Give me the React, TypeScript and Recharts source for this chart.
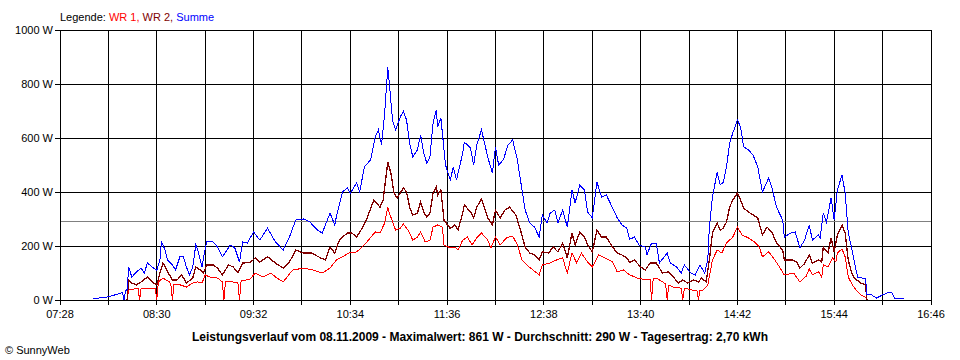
import React from "react";
import { LineChart, Line, XAxis, YAxis, CartesianGrid, ReferenceLine } from "recharts";

// grid every 31 min, label on every second line
const gridTimes = [
  "07:28", "07:59", "08:30", "09:01", "09:32", "10:03", "10:34", "11:05", "11:36", "12:07",
  "12:38", "13:09", "13:40", "14:11", "14:42", "15:13", "15:44", "16:15", "16:46",
];
const wattTicks = [0, 200, 400, 600, 800, 1000];
const avgWatt = 290;

const summeTimes = [
  "07:49", "07:59", "08:08", "08:09", "08:10", "08:11", "08:12", "08:14", "08:17", "08:20",
  "08:22", "08:24", "08:28", "08:30", "08:32", "08:33", "08:35", "08:37", "08:40", "08:42",
  "08:45", "08:47", "08:49", "08:51", "08:53", "08:55", "08:56", "08:59", "09:00", "09:02",
  "09:06", "09:09", "09:12", "09:15", "09:17", "09:20", "09:23", "09:25", "09:28", "09:32",
  "09:36", "09:41", "09:46", "09:51", "09:55", "09:59", "10:04", "10:08", "10:13", "10:16",
  "10:21", "10:24", "10:25", "10:29", "10:32", "10:34", "10:38", "10:40", "10:43", "10:47",
  "10:50", "10:52", "10:54", "10:56", "10:58", "10:59", "11:01", "11:03", "11:06", "11:08",
  "11:10", "11:12", "11:14", "11:17", "11:19", "11:21", "11:23", "11:25", "11:27", "11:29",
  "11:30", "11:32", "11:35", "11:38", "11:40", "11:42", "11:46", "11:47", "11:51", "11:53",
  "11:55", "11:58", "12:00", "12:02", "12:05", "12:07", "12:09", "12:12", "12:15", "12:18",
  "12:21", "12:24", "12:26", "12:29", "12:32", "12:35", "12:37", "12:40", "12:42", "12:45",
  "12:47", "12:50", "12:53", "12:56", "12:58", "13:01", "13:04", "13:06", "13:09", "13:12",
  "13:15", "13:18", "13:22", "13:25", "13:28", "13:31", "13:33", "13:36", "13:39", "13:43",
  "13:44", "13:47", "13:50", "13:52", "13:57", "13:59", "14:03", "14:06", "14:08", "14:12",
  "14:15", "14:18", "14:21", "14:23", "14:24", "14:26", "14:29", "14:31", "14:33", "14:35",
  "14:37", "14:39", "14:42", "14:44", "14:46", "14:49", "14:52", "14:55", "14:58", "15:02",
  "15:04", "15:07", "15:11", "15:12", "15:16", "15:19", "15:22", "15:25", "15:28", "15:30",
  "15:34", "15:35", "15:37", "15:39", "15:42", "15:44", "15:46", "15:49", "15:51", "15:53",
  "15:55", "15:57", "15:59", "16:02", "16:04", "16:05", "16:08", "16:11", "16:15", "16:18",
  "16:21", "16:23", "16:29",
];
const summeWatts = [
  4, 12, 27, 0, 35, 38, 122, 85, 104, 118,
  100, 137, 118, 110, 148, 215, 190, 148, 130, 111,
  163, 160, 122, 93, 122, 204, 190, 122, 160, 218,
  215, 196, 160, 185, 204, 193, 141, 215, 211, 252,
  222, 266, 215, 185, 233, 296, 300, 289, 259, 248,
  322, 278, 307, 400, 415, 396, 433, 400, 493, 519,
  604, 630, 574, 693, 861, 804, 667, 630, 678, 700,
  667, 581, 530, 556, 611, 544, 507, 530, 655, 704,
  641, 674, 500, 444, 493, 444, 544, 585, 563, 500,
  574, 630, 581, 530, 470, 567, 500, 519, 574, 593,
  519, 407, 333, 285, 270, 233, 315, 285, 322, 333,
  285, 333, 270, 407, 359, 426, 407, 326, 304, 437,
  381, 389, 341, 304, 278, 267, 225, 233, 204, 196,
  167, 211, 211, 137, 174, 137, 122, 100, 130, 100,
  93, 130, 100, 148, 270, 381, 474, 426, 437, 493,
  581, 618, 667, 641, 567, 556, 537, 493, 400, 452,
  419, 344, 296, 233, 248, 252, 193, 222, 278, 222,
  241, 230, 322, 289, 378, 296, 407, 463, 396, 248,
  196, 137, 85, 81, 81, 19, 19, 7, 19, 26,
  26, 4, 4,
];

const wr1Times = [
  "08:11", "08:12", "08:14", "08:17", "08:18", "08:19", "08:20", "08:24", "08:28", "08:29",
  "08:30", "08:31", "08:34", "08:38", "08:39", "08:40", "08:41", "08:45", "08:49", "08:53",
  "08:56", "08:59", "09:01", "09:04", "09:09", "09:12", "09:13", "09:14", "09:17", "09:21",
  "09:22", "09:23", "09:24", "09:27", "09:30", "09:33", "09:38", "09:43", "09:47", "09:51",
  "09:57", "10:04", "10:10", "10:16", "10:21", "10:25", "10:29", "10:33", "10:38", "10:43",
  "10:50", "10:53", "10:56", "10:58", "10:59", "11:03", "11:06", "11:08", "11:11", "11:14",
  "11:17", "11:19", "11:22", "11:25", "11:27", "11:30", "11:33", "11:34", "11:37", "11:41",
  "11:43", "11:46", "11:49", "11:52", "11:55", "11:58", "12:02", "12:04", "12:07", "12:10",
  "12:14", "12:18", "12:21", "12:24", "12:27", "12:31", "12:35", "12:37", "12:42", "12:46",
  "12:50", "12:53", "12:56", "12:59", "13:02", "13:06", "13:09", "13:13", "13:17", "13:22",
  "13:25", "13:29", "13:33", "13:38", "13:44", "13:46", "13:47", "13:48", "13:50", "13:54",
  "13:56", "13:57", "13:58", "14:01", "14:06", "14:07", "14:08", "14:13", "14:16", "14:17",
  "14:18", "14:20", "14:23", "14:26", "14:29", "14:32", "14:35", "14:39", "14:42", "14:45",
  "14:49", "14:53", "14:56", "14:58", "15:02", "15:05", "15:09", "15:12", "15:18", "15:22",
  "15:26", "15:28", "15:30", "15:34", "15:36", "15:37", "15:40", "15:43", "15:45", "15:46",
  "15:49", "15:51", "15:53", "15:55", "15:57", "16:01", "16:04", "16:05",
];
const wr1Watts = [
  0, 41, 37, 44, 44, 0, 44, 44, 44, 44,
  0, 67, 81, 67, 60, 0, 56, 56, 48, 63,
  67, 63, 93, 85, 81, 67, 0, 67, 70, 63,
  63, 0, 70, 74, 78, 100, 85, 100, 81, 67,
  111, 118, 111, 100, 118, 148, 160, 174, 178, 204,
  252, 248, 285, 344, 322, 259, 266, 281, 259, 222,
  233, 252, 215, 222, 270, 278, 270, 204, 196, 196,
  185, 222, 233, 204, 230, 248, 222, 193, 233, 204,
  230, 237, 204, 148, 130, 111, 93, 130, 137, 148,
  156, 100, 174, 137, 174, 141, 122, 167, 156, 141,
  104, 111, 93, 81, 74, 78, 0, 78, 81, 67,
  60, 0, 55, 48, 44, 0, 44, 37, 37, 0,
  37, 37, 56, 148, 185, 174, 211, 233, 270, 241,
  230, 215, 196, 160, 178, 156, 122, 93, 100, 67,
  88, 115, 93, 104, 85, 130, 122, 156, 141, 174,
  189, 160, 85, 63, 44, 19, 11, 0,
];

const wr2Times = [
  "08:11", "08:12", "08:14", "08:17", "08:20", "08:24", "08:27", "08:30", "08:32", "08:34",
  "08:37", "08:40", "08:43", "08:46", "08:49", "08:53", "08:55", "08:58", "09:00", "09:02",
  "09:06", "09:09", "09:12", "09:16", "09:19", "09:22", "09:25", "09:30", "09:33", "09:36",
  "09:41", "09:46", "09:51", "09:55", "09:59", "10:04", "10:09", "10:15", "10:18", "10:21",
  "10:24", "10:27", "10:32", "10:35", "10:38", "10:42", "10:45", "10:49", "10:53", "10:55",
  "10:58", "11:00", "11:02", "11:04", "11:08", "11:10", "11:12", "11:14", "11:17", "11:19",
  "11:21", "11:23", "11:25", "11:27", "11:29", "11:30", "11:32", "11:34", "11:38", "11:41",
  "11:43", "11:46", "11:47", "11:51", "11:53", "11:55", "11:58", "12:00", "12:02", "12:05",
  "12:07", "12:10", "12:13", "12:16", "12:20", "12:23", "12:26", "12:29", "12:32", "12:35",
  "12:37", "12:41", "12:44", "12:47", "12:50", "12:53", "12:56", "12:58", "13:01", "13:04",
  "13:06", "13:09", "13:12", "13:15", "13:18", "13:22", "13:25", "13:28", "13:31", "13:33",
  "13:36", "13:40", "13:43", "13:46", "13:50", "13:54", "13:58", "14:01", "14:04", "14:07",
  "14:10", "14:14", "14:17", "14:19", "14:22", "14:24", "14:26", "14:29", "14:31", "14:33",
  "14:35", "14:37", "14:39", "14:42", "14:44", "14:46", "14:49", "14:52", "14:55", "14:58",
  "15:01", "15:04", "15:07", "15:11", "15:12", "15:17", "15:20", "15:22", "15:25", "15:28",
  "15:30", "15:34", "15:36", "15:37", "15:40", "15:42", "15:44", "15:46", "15:49", "15:51",
  "15:53", "15:55", "15:57", "16:01", "16:04", "16:05",
];
const wr2Watts = [
  0, 74, 63, 56, 67, 85, 67, 56, 100, 137,
  104, 74, 74, 93, 63, 81, 122, 111, 100, 130,
  130, 118, 93, 130, 122, 100, 137, 139, 156, 141,
  160, 137, 118, 141, 185, 174, 174, 156, 148, 196,
  174, 222, 248, 248, 233, 270, 307, 370, 344, 370,
  511, 470, 396, 378, 415, 400, 344, 315, 322, 363,
  326, 307, 322, 396, 419, 389, 407, 296, 265, 278,
  259, 322, 352, 326, 304, 344, 374, 341, 304, 278,
  333, 304, 333, 344, 315, 259, 196, 174, 167, 148,
  178, 174, 196, 178, 211, 156, 248, 204, 252, 233,
  204, 178, 259, 233, 233, 196, 174, 167, 156, 140,
  148, 122, 111, 137, 137, 100, 104, 85, 63, 74,
  63, 74, 67, 81, 67, 148, 248, 285, 259, 266,
  289, 344, 370, 396, 370, 341, 326, 315, 304, 241,
  270, 252, 211, 185, 148, 148, 141, 118, 135, 167,
  137, 148, 141, 196, 174, 230, 178, 241, 278, 248,
  148, 104, 81, 63, 56, 0,
];

const toMin = (s: string) => {
  const [h, m] = s.split(":").map(Number);
  return h * 60 + m;
};
const pairs = (times: string[], watts: number[]) => times.map((t, i) => ({ t: toMin(t), w: watts[i] }));
const fmtTime = (m: number) =>
  `${String(Math.floor(m / 60)).padStart(2, "0")}:${String(m % 60).padStart(2, "0")}`;

const gridMins = gridTimes.map(toMin);
const labelled = new Set(gridMins.filter((_, i) => i % 2 === 0));

const font = '"Liberation Sans", Arial, sans-serif';
const tickStyle = { fontSize: 11, fill: "#000", fontFamily: font };

export default function App() {
  return (
    <div style={{ position: "absolute", left: 0, top: 0, width: 960, height: 360, background: "#fff", fontFamily: font }}>
      <style>{`.recharts-surface line, .recharts-surface path { shape-rendering: crispEdges; }`}</style>
      <div style={{ position: "absolute", left: 60, top: 11, fontSize: 11, lineHeight: "13px", whiteSpace: "nowrap" }}>
        Legende: <span style={{ color: "#ff0000" }}>WR 1, </span>
        <span style={{ color: "#800000" }}>WR 2, </span>
        <span style={{ color: "#0000ff" }}>Summe</span>
      </div>
      <LineChart width={960} height={360} margin={{ top: 30, right: 29, bottom: 30, left: 0 }}>
        <CartesianGrid stroke="#000" strokeWidth={1} horizontalValues={wattTicks} verticalValues={gridMins} />
        <XAxis
          dataKey="t" type="number" domain={[gridMins[0], gridMins[gridMins.length - 1]]}
          ticks={gridMins} interval={0} height={30}
          tickFormatter={(v: number) => (labelled.has(v) ? fmtTime(v) : "")}
          tick={tickStyle} tickSize={5} tickMargin={5}
          axisLine={{ stroke: "#000" }} tickLine={{ stroke: "#000" }}
          allowDataOverflow
        />
        <YAxis
          type="number" domain={[0, 1000]} ticks={wattTicks} interval={0} width={60}
          tickFormatter={(v: number) => `${v} W`}
          tick={tickStyle} tickSize={5} tickMargin={2}
          axisLine={{ stroke: "#000" }} tickLine={{ stroke: "#000" }}
        />
        <ReferenceLine y={avgWatt} stroke="#808080" strokeWidth={1} />
        <Line data={pairs(wr1Times, wr1Watts)} dataKey="w" type="linear" stroke="#ff0000" strokeWidth={1} dot={false} activeDot={false} isAnimationActive={false} />
        <Line data={pairs(wr2Times, wr2Watts)} dataKey="w" type="linear" stroke="#800000" strokeWidth={1.3} dot={false} activeDot={false} isAnimationActive={false} />
        <Line data={pairs(summeTimes, summeWatts)} dataKey="w" type="linear" stroke="#0000ff" strokeWidth={1} dot={false} activeDot={false} isAnimationActive={false} />
      </LineChart>
      <div style={{ position: "absolute", left: 0, top: 330, width: 960, textAlign: "center", fontSize: 12, lineHeight: "14px", fontWeight: "bold" }}>
        Leistungsverlauf vom 08.11.2009 - Maximalwert: 861 W - Durchschnitt: 290 W - Tagesertrag: 2,70 kWh
      </div>
      <div style={{ position: "absolute", left: 5, top: 344, fontSize: 11, lineHeight: "13px" }}>© SunnyWeb</div>
    </div>
  );
}
